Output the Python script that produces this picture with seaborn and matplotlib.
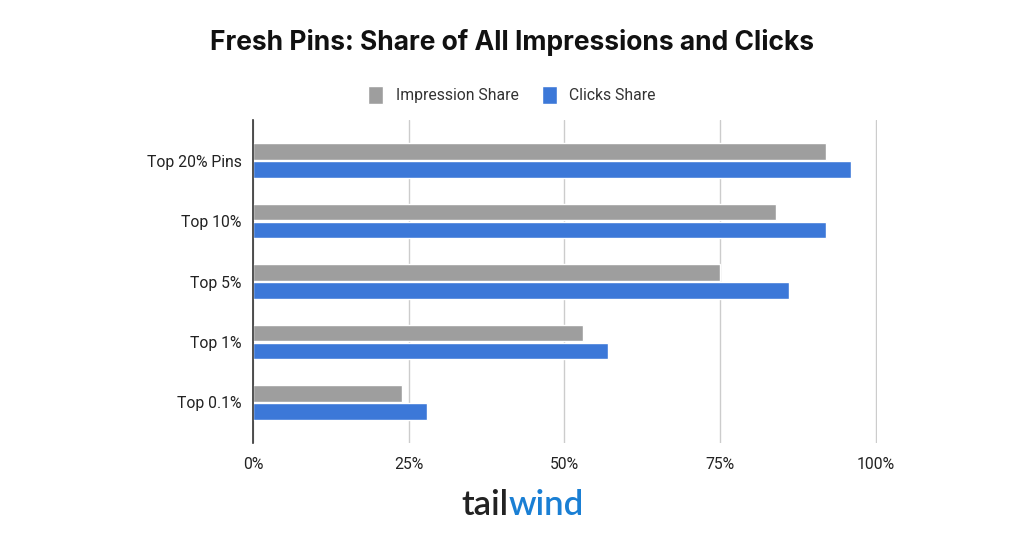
import pandas as pd
import matplotlib.pyplot as plt
import seaborn as sns

# data
groups = ["Top 20% Pins", "Top 10%", "Top 5%", "Top 1%", "Top 0.1%"]
impression_share = [92, 84, 75, 53, 24]
clicks_share = [96, 92, 86, 57, 28]
series_names = ["Impression Share", "Clicks Share"]
x_ticks = [0, 25, 50, 75, 100]

df = pd.DataFrame({
    "group": groups * 2,
    "series": [series_names[0]] * len(groups) + [series_names[1]] * len(groups),
    "share": impression_share + clicks_share,
})

sns.set_theme(style="white")
plt.rcParams["font.family"] = ["Roboto", "DejaVu Sans"]

fig = plt.figure(figsize=(10.24, 5.36), dpi=100)
ax = fig.add_axes([0.247, 0.1735, 0.6094, 0.6026])

pal = {"Impression Share": "#9e9e9e", "Clicks Share": "#3c78d8"}
sns.barplot(data=df, y="group", x="share", hue="series", order=groups,
            hue_order=series_names, palette=pal, orient="h",
            width=0.6, gap=0.08, saturation=1, ax=ax, legend=True)

ax.set_xlim(0, 100.2)
ax.set_ylim(len(groups) - 0.33, -0.67)
ax.set_xticks(x_ticks)
ax.set_xticklabels([f"{t}%" for t in x_ticks])
ax.set_xlabel("")
ax.set_ylabel("")
ax.tick_params(axis="both", length=0, labelsize=11.3, colors="#222222")
ax.tick_params(axis="x", pad=10)
ax.tick_params(axis="y", pad=8)
ax.grid(axis="x", color="#cccccc", linewidth=1)
ax.set_axisbelow(True)
for s in ["top", "right", "bottom"]:
    ax.spines[s].set_visible(False)
ax.spines["left"].set_color("#333333")
ax.spines["left"].set_linewidth(1.2)

ax.get_legend().remove()
handles, labels = ax.get_legend_handles_labels()
fig.legend(handles[:2], labels[:2], loc="center", bbox_to_anchor=(0.5, 0.823),
           ncol=2, frameon=False, fontsize=11.3, handlelength=0.95,
           handleheight=1.4, handletextpad=0.8, columnspacing=1.5,
           labelcolor="#333333")

fig.text(0.5, 0.92, "Fresh Pins: Share of All Impressions and Clicks",
         ha="center", va="center", fontsize=19, fontweight="bold",
         family=["Inter", "DejaVu Sans"], color="#111111")

# tailwind wordmark
fig.text(0.497, 0.058, "tail", ha="right", va="center", fontsize=25,
         fontweight="semibold", family=["Lato", "DejaVu Sans"], color="#222222")
fig.text(0.497, 0.058, "wind", ha="left", va="center", fontsize=25,
         fontweight="semibold", family=["Lato", "DejaVu Sans"], color="#1a7fd4")

fig.savefig("out.png", dpi=100, facecolor="white")
